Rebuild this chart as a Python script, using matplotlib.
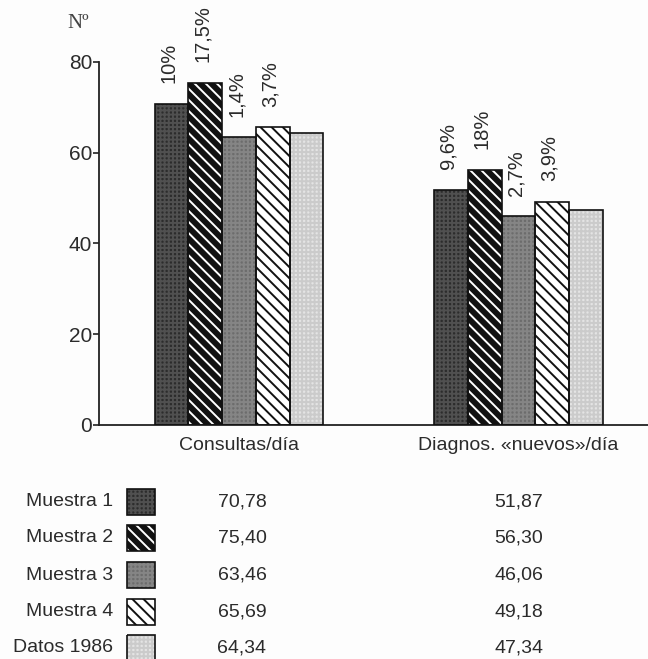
import matplotlib.pyplot as plt
from matplotlib.patches import Rectangle

plt.rcParams['font.family'] = ['Liberation Sans Narrow', 'Liberation Sans', 'DejaVu Sans']
plt.rcParams['hatch.linewidth'] = 1.4

# data
groups = ['Consultas/día', 'Diagnos. «nuevos»/día']
series = ['Muestra 1', 'Muestra 2', 'Muestra 3', 'Muestra 4', 'Datos 1986']
consultas = [70.78, 75.40, 63.46, 65.69, 64.34]
diagnos = [51.87, 56.30, 46.06, 49.18, 47.34]
pct_consultas = [10, 17.5, 1.4, 3.7, None]
pct_diagnos = [9.6, 18, 2.7, 3.9, None]
yticks = [0, 20, 40, 60, 80]

# fill, hatch, hatch colour for each series
styles = [
    ('#2c2c2c', '++++', '#505050'),
    ('#111111', '\\\\\\', '#ffffff'),
    ('#6c6c6c', '++++', '#858585'),
    ('#ffffff', '\\\\\\', '#111111'),
    ('#e4e4e4', '++++', '#cbcbcb'),
]

TXT = '#2b2b2b'
FS = 14


def comma(v, fmt):
    return format(v, fmt).replace('.', ',')


fig = plt.figure(figsize=(6.48, 6.59), dpi=100)
fig.patch.set_facecolor('#fdfdfd')

ax = fig.add_axes([99 / 648, 1 - 425 / 659, 549 / 648, 363 / 659])
ax.set_facecolor('none')

bar_w = 0.1206
values = [consultas, diagnos]
pcts = [pct_consultas, pct_diagnos]
for g in range(len(groups)):
    for i in range(len(series)):
        x = g + (i - 2) * bar_w
        v = values[g][i]
        face, hatch, hcol = styles[i]
        ax.bar(x, v, width=bar_w, color=face, hatch=hatch, edgecolor=hcol, linewidth=0, zorder=2)
        ax.bar(x, v, width=bar_w, fill=False, edgecolor='#111111', linewidth=1.2, zorder=3)
        p = pcts[g][i]
        if p is not None:
            ax.text(x - 0.01, v + 4.5, comma(p, 'g') + '%', rotation=90, ha='center', va='bottom',
                    fontsize=FS + 0.5, color=TXT)

ax.set_xlim(-0.501, 1.463)
ax.set_ylim(0, 80)
ax.set_yticks(yticks)
ax.set_yticklabels([str(t) for t in yticks], fontsize=FS + 1, color=TXT)
ax.set_xticks(range(len(groups)))
ax.set_xticklabels(groups, fontsize=FS, color=TXT)
ax.tick_params(axis='x', length=0, pad=9)
ax.tick_params(axis='y', length=4, width=1.2, pad=1, color='#222222')
for s in ('top', 'right'):
    ax.spines[s].set_visible(False)
for s in ('left', 'bottom'):
    ax.spines[s].set_linewidth(1.3)
    ax.spines[s].set_color('#222222')

# overlay in pixel units for the unit label and the value table
ov = fig.add_axes([0, 0, 1, 1], zorder=-1)
ov.set_xlim(0, 648)
ov.set_ylim(659, 0)
ov.axis('off')

ov.text(78, 24, 'Nº', ha='center', va='center', fontsize=15, color='#444444', family='Liberation Serif')

row_y = [502, 538, 575, 612, 648]
for i, name in enumerate(series):
    y = row_y[i]
    ov.text(113, y, name, ha='right', va='center', fontsize=FS, color=TXT)
    face, hatch, hcol = styles[i]
    ov.add_patch(Rectangle((127, y - 13), 28, 26, facecolor=face, hatch=hatch, edgecolor=hcol, linewidth=0))
    ov.add_patch(Rectangle((127, y - 13), 28, 26, fill=False, edgecolor='#111111', linewidth=1.2))
    ov.text(242, y, comma(consultas[i], '.2f'), ha='center', va='center', fontsize=FS, color=TXT)
    ov.text(519, y, comma(diagnos[i], '.2f'), ha='center', va='center', fontsize=FS, color=TXT)

fig.savefig('out.png', dpi=100, facecolor=fig.get_facecolor())
